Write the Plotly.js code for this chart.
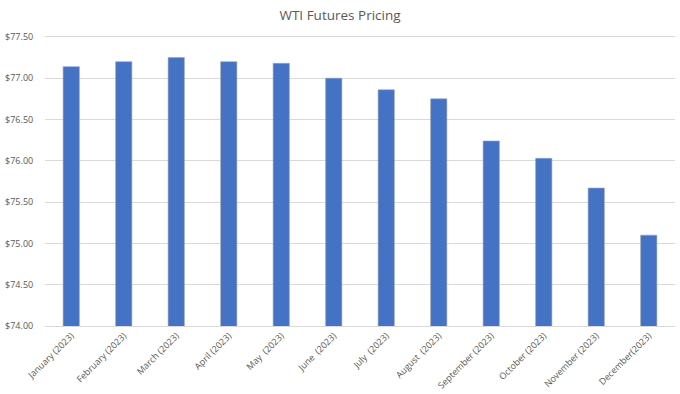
<!DOCTYPE html>
<html>
<head>
<meta charset="utf-8">
<script src="https://cdn.plot.ly/plotly-3.0.1.min.js"></script>
<style>html,body{margin:0;padding:0;background:#fff;}#chart{width:680px;height:394px;}</style>
</head>
<body>
<div id="chart"></div>
<script>
const categories = ["January (2023)", "February (2023)", "March (2023)", "April (2023)", "May  (2023)", "June  (2023)", "July  (2023)", "August  (2023)", "September (2023)", "October (2023)", "November (2023)", "December(2023)"];
const prices = [77.14, 77.20, 77.25, 77.20, 77.18, 77.00, 76.86, 76.75, 76.24, 76.03, 75.67, 75.10];
const yTicks = [74.0, 74.5, 75.0, 75.5, 76.0, 76.5, 77.0, 77.5];
const yTickText = yTicks.map(v => "$" + v.toFixed(2));

Plotly.newPlot("chart", [{
  type: "bar",
  x: categories,
  y: prices,
  width: 0.31,
  marker: {color: "#4472C4", line: {color: "#a5a5a5", width: 0.6}},
  hoverinfo: "x+y"
}], {
  width: 680, height: 394,
  margin: {l: 45, r: 5, t: 34, b: 68},
  paper_bgcolor: "#fff", plot_bgcolor: "#fff",
  title: {text: "WTI Futures Pricing", x: 0.5, xanchor: "center", y: 0.96, yanchor: "middle",
    font: {family: "Open Sans, Liberation Sans, sans-serif", size: 13.5, color: "#595959"}},
  font: {family: "Open Sans, Liberation Sans, sans-serif", color: "#595959"},
  xaxis: {type: "category", tickangle: -45, tickfont: {size: 9, color: "#595959"},
    showline: true, linecolor: "#d9d9d9", linewidth: 1, ticks: "", showgrid: false,
    range: [-0.5, 11.5]},
  yaxis: {range: [74, 77.535], tickvals: yTicks, ticktext: yTickText,
    tickfont: {size: 9, color: "#595959"}, showgrid: true, gridcolor: "#d9d9d9", gridwidth: 1,
    zeroline: false, showline: false, ticks: "outside", ticklen: 9, tickcolor: "rgba(0,0,0,0)"},
  showlegend: false
}, {displayModeBar: false, staticPlot: true});
</script>
</body>
</html>
